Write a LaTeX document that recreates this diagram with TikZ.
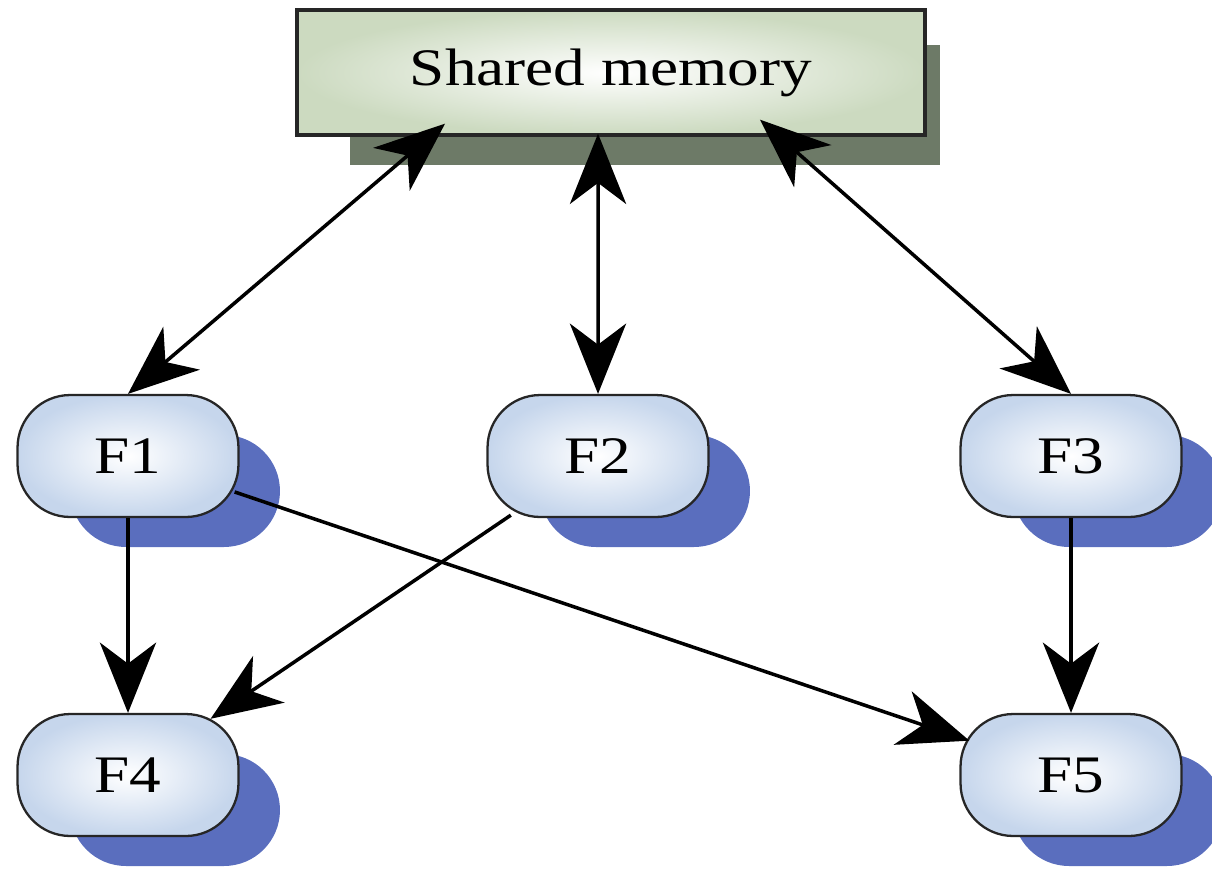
\documentclass[tikz,border=0pt]{standalone}
\usepackage{fontspec}
\setmainfont{Liberation Serif}
\usetikzlibrary{shapes.misc,arrows.meta}
\definecolor{smshadow}{HTML}{6D7A67}
\definecolor{fshadow}{HTML}{5A6EBE}
\definecolor{fedge}{HTML}{C6D6EC}
\definecolor{smedge}{HTML}{CCDAC0}
\definecolor{outline}{HTML}{262626}
\newcommand{\lbl}[1]{\scalebox{1.2}[1]{\fontsize{30}{36}\selectfont #1}}
\begin{document}
\begin{tikzpicture}[x=0.02cm,y=-0.02cm,
  fnode/.style={rectangle, rounded corners=30pt, draw=outline, line width=1.3pt,
    inner color=white, outer color=fedge, minimum width=4.42cm, minimum height=2.44cm, inner sep=0pt},
  fshade/.style={rounded rectangle, fill=fshadow, draw=none, minimum width=4.2cm, minimum height=2.24cm, inner sep=0pt},
  tip/.tip={Stealth[length=40pt,width=32pt,inset=12pt]},
  link/.style={line width=2pt, -tip},
  blink/.style={line width=2pt, tip-tip},
  diag/.style={shorten >=-6pt, shorten <=-3pt}
]
\useasboundingbox (0,0) rectangle (1212,869);
% shared memory
\node[fill=smshadow, draw=none, inner sep=0pt, minimum width=11.8cm, minimum height=2.4cm] (smsh) at (645,105) {};
\node[draw=outline, line width=1.9pt, inner color=white, outer color=smedge, inner sep=0pt,
  minimum width=12.56cm, minimum height=2.5cm] (sm) at (611,72.5) {\lbl{Shared memory}\hspace{22pt}};
% shadows
\node[fshade] (s1) at (175,491) {};
\node[fshade] (s2) at (645,491) {};
\node[fshade] (s3) at (1118,491) {};
\node[fshade] (s4) at (175,810) {};
\node[fshade] (s5) at (1118,810) {};
% function nodes
\node[fnode] (f1) at (128,456) {\lbl{F1}};
\node[fnode] (f2) at (598,456) {\lbl{F2}};
\node[fnode] (f3) at (1071,456) {\lbl{F3}};
\node[fnode] (f4) at (128,775) {\lbl{F4}};
\node[fnode] (f5) at (1071,775) {\lbl{F5}};
% connectors
\draw[blink] ([xshift=-3.32cm,yshift=0.26cm]sm.south) -- (f1.north);
\draw[blink] ([xshift=-0.26cm,yshift=0.06cm]sm.south) -- (f2.north);
\draw[blink] ([xshift=2.98cm,yshift=0.34cm]sm.south) -- (f3.north);
\draw[link] (f1.south) -- (f4.north);
\draw[link, diag] (f2) -- (f4);
\draw[link, diag] (f1) -- (f5);
\draw[link] (f3.south) -- (f5.north);
\end{tikzpicture}
\end{document}
